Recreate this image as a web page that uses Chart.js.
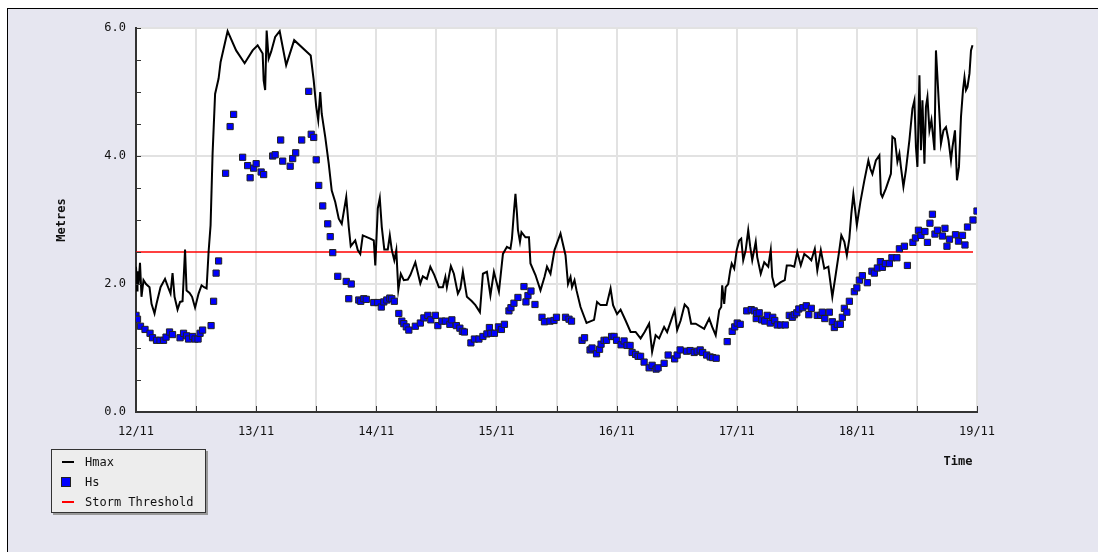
<!DOCTYPE html>
<html>
<head>
<meta charset="utf-8">
<script src="https://cdn.jsdelivr.net/npm/chart.js@4.4.1/dist/chart.umd.min.js"></script>
<style>
  body { margin: 0; width: 1098px; height: 552px; overflow: hidden; background: #fff; position: relative; }
  #frame { position: absolute; left: 7px; top: 8px; width: 1100px; height: 560px; background: #e6e6f0; border: 1px solid #000; }
  #chart { position: absolute; left: 0; top: 0; }
  #legend { position: absolute; left: 51px; top: 449px; width: 153px; height: 62px; background: #ededed;
            border: 1px solid #333; box-shadow: 2px 2px 0 #999; font: 12px "DejaVu Sans Mono", monospace; color: #111; }
  #legend .row { position: absolute; left: 0; height: 14px; line-height: 14px; }
  #legend .mark { position: absolute; left: 9px; }
  #legend .txt { position: absolute; left: 33px; white-space: nowrap; }
</style>
</head>
<body>
<div id="frame"></div>
<canvas id="chart" width="1098" height="552"></canvas>
<div id="legend"></div>
<script>
// hours since 12/11 00:00
const dayLabels = ['12/11', '13/11', '14/11', '15/11', '16/11', '17/11', '18/11', '19/11'];

const hmaxHours = [0, 0.2, 0.3, 0.5, 0.8, 1.1, 1.5, 2.0, 2.7, 3.1, 3.7, 4.1, 4.9, 5.8, 6.5, 6.9, 7.3, 7.7, 8.3, 8.8,
  9.3, 9.8, 10.1, 10.7, 11.2, 11.8, 12.5, 13.1, 13.6, 14.1, 14.5, 14.9, 15.3, 15.8, 16.5, 16.9, 18.3, 20.0, 21.7, 23.3,
  24.3, 25.3, 25.5, 25.8, 26.1, 26.5, 27.0, 27.8, 28.7, 30.0, 31.6, 34.9, 35.5, 36.0, 36.4, 36.8, 37.1, 37.8, 38.5, 39.1,
  39.8, 40.5, 41.1, 42.0, 42.5, 42.9, 43.8, 44.3, 44.8, 45.3, 46.8, 47.5, 47.8, 48.3, 48.7, 49.1, 49.6, 50.3, 50.7, 51.1,
  51.6, 52.0, 52.4, 52.9, 53.5, 54.3, 54.8, 55.8, 56.8, 57.3, 58.1, 58.8, 59.6, 60.5, 61.3, 61.8, 62.1, 62.9, 63.5, 64.3,
  64.8, 65.3, 66.1, 67.1, 67.8, 68.7, 69.3, 70.1, 70.8, 71.5, 72.5, 73.3, 74.1, 74.8, 75.1, 75.5, 75.8, 76.1, 76.3, 76.7,
  77.0, 77.8, 78.5, 78.8, 79.8, 80.8, 81.6, 82.1, 82.8, 83.6, 84.8, 85.8, 86.3, 86.8, 87.1, 87.6, 88.0, 88.8, 90.0, 91.5,
  92.1, 92.8, 94.0, 94.8, 95.3, 96.1, 96.8, 97.8, 98.8, 99.8, 100.8, 101.6, 102.5, 103.1, 103.8, 104.5, 105.5, 106.1, 107.6, 108.1,
  108.8, 109.6, 110.3, 110.9, 111.8, 113.5, 114.5, 115.1, 115.8, 116.5, 116.9, 117.1, 117.5, 117.8, 118.3, 118.7, 119.0, 119.5, 120.0, 120.5,
  120.9, 121.3, 121.8, 122.3, 122.7, 123.1, 123.8, 124.1, 124.8, 125.5, 126.3, 126.8, 127.1, 127.6, 128.8, 129.6, 130.0, 130.8, 131.5, 132.1,
  132.8, 133.5, 134.3, 134.9, 135.6, 136.1, 136.8, 137.5, 138.3, 139.1, 139.8, 140.5, 140.9, 141.5, 142.0, 142.5, 142.9, 143.3, 143.6, 144.0,
  144.7, 145.5, 146.3, 146.7, 147.1, 147.8, 148.5, 148.8, 149.1, 149.8, 150.8, 151.1, 151.6, 152.1, 152.5, 152.8, 153.3, 153.8, 154.5, 155.1,
  155.5, 155.8, 156.1, 156.5, 156.8, 157.1, 157.5, 157.8, 158.1, 158.5, 158.9, 159.5, 159.8, 160.1, 160.8, 161.3, 161.8, 162.3, 162.8, 163.1,
  163.6, 164.0, 164.4, 164.8, 165.2, 165.5, 165.8, 166.1, 166.5, 166.8, 167.1];
const hmaxValues = [2.27, 1.90, 2.20, 2.00, 2.33, 1.80, 2.06, 2.00, 1.95, 1.69, 1.54, 1.69, 1.95, 2.08, 1.93, 1.85, 2.17, 1.80, 1.60, 1.72,
  1.73, 2.54, 1.90, 1.86, 1.80, 1.63, 1.85, 1.98, 1.95, 1.93, 2.50, 2.92, 4.04, 4.97, 5.21, 5.47, 5.95, 5.65, 5.45, 5.65,
  5.73, 5.60, 5.18, 5.03, 5.96, 5.52, 5.63, 5.86, 5.95, 5.42, 5.81, 5.57, 5.18, 4.77, 4.56, 5.00, 4.66, 4.30, 3.88, 3.46,
  3.28, 3.02, 2.94, 3.36, 2.89, 2.59, 2.68, 2.53, 2.47, 2.76, 2.71, 2.68, 2.29, 3.18, 3.34, 2.89, 2.54, 2.54, 2.76, 2.53,
  2.37, 2.53, 1.91, 2.16, 2.06, 2.07, 2.14, 2.34, 2.01, 2.12, 2.08, 2.27, 2.14, 1.95, 1.95, 2.11, 1.95, 2.28, 2.16, 1.85,
  1.93, 2.19, 1.80, 1.73, 1.67, 1.56, 2.16, 2.19, 1.82, 2.19, 1.88, 2.47, 2.58, 2.55, 2.71, 3.13, 3.41, 3.10, 2.84, 2.66,
  2.81, 2.73, 2.73, 2.32, 2.14, 1.90, 2.11, 2.27, 2.16, 2.53, 2.79, 2.45, 2.00, 2.11, 1.95, 2.06, 1.90, 1.64, 1.39, 1.44,
  1.72, 1.67, 1.67, 1.93, 1.67, 1.53, 1.60, 1.43, 1.25, 1.25, 1.15, 1.25, 1.38, 0.94, 1.20, 1.15, 1.33, 1.25, 1.59, 1.28,
  1.43, 1.68, 1.62, 1.38, 1.38, 1.30, 1.46, 1.33, 1.20, 1.59, 1.64, 1.98, 1.69, 1.95, 2.00, 2.21, 2.32, 2.24, 2.53, 2.68,
  2.71, 2.37, 2.53, 2.84, 2.58, 2.37, 2.66, 2.42, 2.16, 2.34, 2.27, 2.53, 2.11, 1.96, 2.03, 2.06, 2.29, 2.29, 2.27, 2.50,
  2.29, 2.47, 2.42, 2.37, 2.55, 2.21, 2.53, 2.24, 2.27, 1.80, 2.16, 2.53, 2.76, 2.66, 2.45, 2.71, 3.10, 3.40, 3.20, 2.92,
  3.28, 3.62, 3.93, 3.80, 3.72, 3.93, 4.01, 3.41, 3.36, 3.49, 3.72, 4.30, 4.27, 3.91, 4.04, 3.83, 3.52, 3.78, 4.25, 4.74,
  4.87, 4.14, 3.83, 5.26, 4.09, 4.87, 3.88, 4.77, 4.92, 4.40, 4.56, 4.09, 5.65, 5.23, 4.19, 4.40, 4.45, 4.25, 3.93, 4.14,
  4.40, 3.62, 3.83, 4.61, 5.03, 5.23, 5.03, 5.08, 5.29, 5.65, 5.73];

const hsHours = [0, 0.3, 0.9, 1.8, 2.8, 3.3, 4.1, 4.8, 5.5, 6.0, 6.7, 7.3, 8.8, 9.5, 10.1, 10.5, 11.3, 11.8, 12.4, 12.8,
  13.3, 15.0, 15.5, 16.0, 16.5, 17.9, 18.8, 19.5, 21.3, 22.3, 22.8, 23.5, 24.0, 25.0, 25.5, 27.3, 27.8, 28.9, 29.3, 30.8,
  31.3, 31.9, 33.1, 34.5, 35.0, 35.5, 36.0, 36.5, 37.3, 38.3, 38.8, 39.3, 40.3, 42.0, 42.5, 43.0, 44.5, 44.9, 45.5, 46.0,
  47.5, 48.3, 49.0, 49.5, 50.1, 50.7, 51.1, 51.6, 52.5, 53.1, 53.5, 54.0, 54.5, 55.8, 56.8, 57.5, 58.3, 58.9, 59.8, 60.3,
  61.1, 61.8, 62.7, 63.1, 64.0, 64.7, 65.2, 65.6, 66.9, 67.6, 68.5, 69.3, 70.1, 70.6, 70.9, 71.6, 72.4, 73.0, 73.6, 74.5,
  74.9, 75.5, 76.3, 77.5, 77.9, 78.3, 78.9, 79.7, 81.1, 81.6, 82.7, 83.5, 84.0, 85.8, 86.5, 87.0, 89.1, 89.6, 90.7, 91.1,
  92.0, 92.6, 92.9, 93.5, 94.0, 95.0, 95.5, 96.0, 96.9, 97.5, 98.1, 98.7, 99.1, 99.8, 100.3, 100.8, 101.5, 102.5, 103.1, 103.9,
  104.3, 105.5, 106.3, 107.6, 108.1, 108.7, 110.0, 110.7, 111.5, 112.1, 112.7, 113.2, 114.0, 114.7, 115.2, 115.9, 118.1, 119.1, 119.6, 120.1,
  120.7, 122.0, 122.9, 123.5, 123.9, 124.0, 124.5, 125.0, 125.6, 126.1, 126.7, 127.2, 127.6, 128.1, 128.8, 129.7, 130.5, 131.1, 131.5, 132.0,
  132.4, 133.2, 133.9, 134.4, 134.9, 136.1, 136.8, 137.1, 137.6, 138.5, 139.1, 139.5, 140.1, 140.7, 141.1, 141.5, 142.0, 142.5, 143.5, 144.0,
  144.5, 145.1, 146.1, 147.0, 147.5, 148.1, 148.7, 149.1, 149.7, 150.5, 151.0, 152.0, 152.5, 153.5, 154.1, 155.2, 155.7, 156.3, 156.8, 157.6,
  158.1, 158.6, 159.1, 159.6, 160.1, 161.1, 161.6, 162.0, 162.5, 163.7, 164.3, 165.1, 165.6, 166.1, 167.2, 168.0];
const hsValues = [1.51, 1.45, 1.34, 1.29, 1.23, 1.16, 1.12, 1.12, 1.12, 1.17, 1.25, 1.21, 1.16, 1.23, 1.19, 1.14, 1.18, 1.14, 1.14, 1.23,
  1.28, 1.35, 1.73, 2.17, 2.36, 3.73, 4.46, 4.65, 3.98, 3.85, 3.66, 3.81, 3.88, 3.75, 3.71, 4.00, 4.02, 4.25, 3.92, 3.84,
  3.96, 4.05, 4.25, 5.01, 4.34, 4.29, 3.94, 3.54, 3.22, 2.94, 2.74, 2.49, 2.12, 2.04, 1.77, 2.00, 1.75, 1.73, 1.77, 1.76,
  1.71, 1.71, 1.64, 1.72, 1.75, 1.78, 1.77, 1.73, 1.54, 1.42, 1.38, 1.33, 1.28, 1.34, 1.39, 1.47, 1.51, 1.44, 1.51, 1.35,
  1.42, 1.42, 1.37, 1.44, 1.35, 1.31, 1.26, 1.25, 1.08, 1.14, 1.14, 1.18, 1.22, 1.32, 1.23, 1.23, 1.33, 1.29, 1.37, 1.58,
  1.63, 1.70, 1.79, 1.96, 1.72, 1.82, 1.89, 1.68, 1.48, 1.41, 1.42, 1.43, 1.48, 1.48, 1.45, 1.42, 1.12, 1.16, 0.97, 1.00,
  0.91, 0.98, 1.06, 1.12, 1.12, 1.18, 1.18, 1.12, 1.05, 1.11, 1.04, 1.04, 0.93, 0.90, 0.87, 0.87, 0.78, 0.69, 0.73, 0.67,
  0.69, 0.76, 0.89, 0.83, 0.89, 0.97, 0.95, 0.96, 0.93, 0.95, 0.97, 0.93, 0.89, 0.86, 0.85, 0.84, 1.10, 1.26, 1.33, 1.39,
  1.37, 1.58, 1.60, 1.58, 1.46, 1.54, 1.55, 1.44, 1.42, 1.51, 1.39, 1.48, 1.43, 1.36, 1.36, 1.36, 1.51, 1.48, 1.52, 1.55,
  1.61, 1.63, 1.66, 1.52, 1.62, 1.51, 1.51, 1.56, 1.46, 1.56, 1.41, 1.32, 1.37, 1.37, 1.48, 1.62, 1.56, 1.73, 1.88, 1.94,
  2.06, 2.13, 2.02, 2.20, 2.17, 2.25, 2.35, 2.26, 2.32, 2.32, 2.41, 2.41, 2.55, 2.59, 2.29, 2.65, 2.72, 2.84, 2.76, 2.82,
  2.65, 2.95, 3.09, 2.78, 2.84, 2.75, 2.87, 2.59, 2.70, 2.77, 2.67, 2.76, 2.61, 2.89, 3.00, 3.14];

const thresholdHours = [0, 167.2];
const thresholdValues = [2.5, 2.5];

const toPoints = (xs, ys) => xs.map((x, i) => ({ x: x, y: ys[i] }));

const MONO = '"DejaVu Sans Mono", monospace';

// white plot area behind grid
const plotBackground = {
  id: 'plotBackground',
  beforeDraw(chart) {
    const { ctx, chartArea } = chart;
    ctx.save();
    ctx.fillStyle = '#ffffff';
    ctx.fillRect(chartArea.left, chartArea.top, chartArea.right - chartArea.left, chartArea.bottom - chartArea.top);
    ctx.restore();
  }
};

// small inward tick marks + axis titles
const axisExtras = {
  id: 'axisExtras',
  afterDatasetsDraw(chart) {
    const { ctx, chartArea, scales } = chart;
    ctx.save();
    ctx.strokeStyle = '#333';
    ctx.lineWidth = 1;
    ctx.beginPath();
    for (let v = 0; v <= 6; v += 0.5) {
      const y = Math.round(scales.y.getPixelForValue(v)) + 0.5;
      ctx.moveTo(chartArea.left, y);
      ctx.lineTo(chartArea.left + 5, y);
    }
    for (let h = 0; h <= 168; h += 12) {
      const x = Math.round(scales.x.getPixelForValue(h)) + 0.5;
      ctx.moveTo(x, chartArea.bottom);
      ctx.lineTo(x, chartArea.bottom - 6);
    }
    ctx.stroke();

    ctx.fillStyle = '#111';
    ctx.font = 'bold 12px ' + MONO;
    ctx.textAlign = 'center';
    ctx.textBaseline = 'middle';
    ctx.fillText('Time', 958, 462);
    ctx.translate(62, (chartArea.top + chartArea.bottom) / 2);
    ctx.rotate(-Math.PI / 2);
    ctx.fillText('Metres', 0, 0);
    ctx.restore();
  }
};

const chart = new Chart(document.getElementById('chart'), {
  type: 'line',
  data: {
    datasets: [
      {
        label: 'Hmax',
        data: toPoints(hmaxHours, hmaxValues),
        borderColor: '#000',
        borderWidth: 2,
        pointRadius: 0,
        tension: 0,
        order: 1
      },
      {
        label: 'Hs',
        data: toPoints(hsHours, hsValues),
        showLine: false,
        pointStyle: 'rect',
        pointRadius: 4.4,
        pointBackgroundColor: '#0000ff',
        pointBorderColor: '#222',
        pointBorderWidth: 1,
        order: 0
      },
      {
        label: 'Storm Threshold',
        data: toPoints(thresholdHours, thresholdValues),
        borderColor: '#ff0000',
        borderWidth: 1.5,
        pointRadius: 0,
        order: 2
      }
    ]
  },
  options: {
    responsive: false,
    animation: false,
    layout: { padding: { top: 28, right: 121, bottom: 0, left: 0 } },
    plugins: {
      legend: { display: false },
      tooltip: { enabled: false }
    },
    scales: {
      x: {
        type: 'linear',
        min: 0,
        max: 168,
        afterFit: (scale) => { scale.height = 140; },
        border: { color: '#333', width: 2 },
        grid: { color: '#e2e2e2', lineWidth: 2, drawTicks: false },
        ticks: {
          stepSize: 12,
          autoSkip: false,
          maxRotation: 0,
          padding: 13,
          color: '#111',
          font: { family: MONO, size: 12 },
          callback: (v) => (v % 24 === 0 ? dayLabels[v / 24] : '')
        }
      },
      y: {
        min: 0,
        max: 6,
        afterFit: (scale) => { scale.width = 136; },
        border: { color: '#333', width: 2 },
        grid: { color: '#e2e2e2', lineWidth: 2, drawTicks: false },
        ticks: {
          stepSize: 2,
          padding: 10,
          color: '#111',
          font: { family: MONO, size: 12 },
          callback: (v) => v.toFixed(1)
        }
      }
    }
  },
  plugins: [plotBackground, axisExtras]
});

// html legend built from the datasets
const legendEl = document.getElementById('legend');
chart.data.datasets.forEach((ds, i) => {
  const row = document.createElement('div');
  row.className = 'row';
  row.style.top = (5 + i * 20) + 'px';
  const mark = document.createElement('div');
  mark.className = 'mark';
  if (ds.showLine === false) {
    mark.style.cssText = 'left:9px;top:2px;width:8px;height:8px;background:' + ds.pointBackgroundColor + ';border:1px solid #222;';
  } else {
    mark.style.cssText = 'left:10px;top:6px;width:12px;height:2px;background:' + ds.borderColor + ';';
  }
  const txt = document.createElement('div');
  txt.className = 'txt';
  txt.textContent = ds.label;
  row.appendChild(mark);
  row.appendChild(txt);
  legendEl.appendChild(row);
});
</script>
</body>
</html>
